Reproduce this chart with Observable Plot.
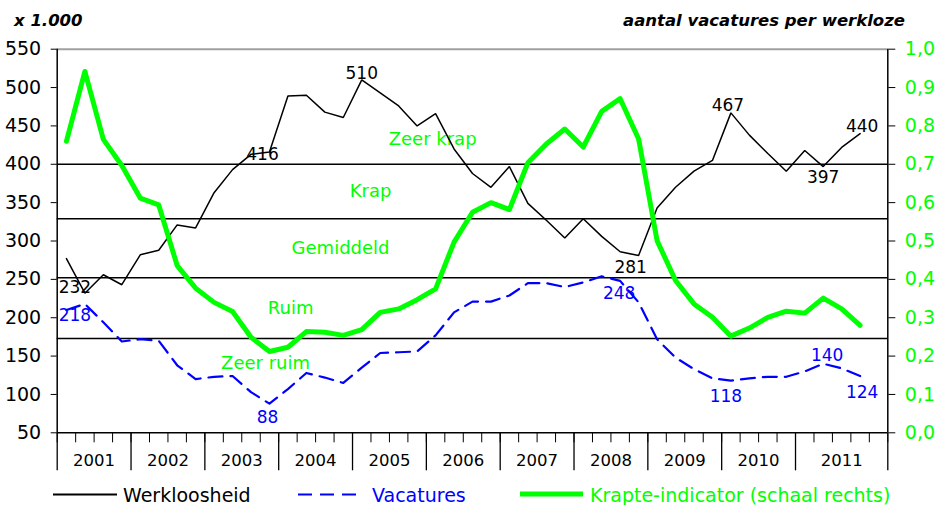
<!DOCTYPE html>
<html><head><meta charset="utf-8">
<script src="https://cdn.jsdelivr.net/npm/d3@7"></script>
<script src="https://cdn.jsdelivr.net/npm/@observablehq/plot@0.6"></script>
<style>
body{margin:0;background:#fff;}
#wrap{position:relative;width:936px;height:505px;font-family:"DejaVu Sans",Verdana,sans-serif;overflow:hidden;background:#fff}
.h{position:absolute;top:11px;font-weight:bold;font-style:italic;font-size:16.5px;line-height:20px;color:#000;white-space:nowrap}
#chart{position:absolute;left:0;top:40px}
.lt{position:absolute;top:485px;font-size:19px;line-height:20px;white-space:nowrap}
.sw{position:absolute}
</style></head>
<body>
<div id="wrap">
  <div class="h" style="left:14px">x 1.000</div>
  <div class="h" style="right:31px">aantal vacatures per werkloze</div>
  <div id="chart"></div>
  <svg class="sw" style="left:0;top:480px" width="936" height="25">
    <line x1="53" x2="117" y1="14.5" y2="14.5" stroke="#000" stroke-width="2"/>
    <line x1="298" x2="362" y1="14.5" y2="14.5" stroke="#0000ff" stroke-width="2.2" stroke-dasharray="14,8"/>
    <line x1="520" x2="583" y1="14" y2="14" stroke="#00ff00" stroke-width="5"/>
  </svg>
  <div class="lt" style="left:123px;color:#000">Werkloosheid</div>
  <div class="lt" style="left:372px;color:#0000ff">Vacatures</div>
  <div class="lt" style="left:590px;color:#00ff00">Krapte-indicator (schaal rechts)</div>
</div>
<script>
// ---- data (quarterly, 2001 Q1 – 2011 Q4) ----
const years = [2001, 2002, 2003, 2004, 2005, 2006, 2007, 2008, 2009, 2010, 2011];
const werkloosheid = [277, 232, 256, 243, 282, 288, 321, 317, 363, 393, 413, 416, 489, 490, 468, 461, 510, 493, 476, 450, 466, 420, 388, 370, 397, 349, 327, 304, 329, 306, 286, 281, 343, 370, 391, 405, 467, 438, 414, 391, 418, 397, 422, 440];
const vacatures = [210, 218, 194, 169, 172, 170, 138, 120, 123, 124, 103, 88, 107, 128, 122, 115, 135, 154, 155, 156, 177, 207, 221, 221, 229, 245, 245, 240, 246, 254, 248, 220, 172, 148, 133, 121, 118, 121, 123, 123, 130, 140, 134, 124];
const krapte = [0.760, 0.942, 0.765, 0.697, 0.612, 0.594, 0.436, 0.377, 0.340, 0.316, 0.249, 0.212, 0.223, 0.264, 0.262, 0.254, 0.269, 0.314, 0.323, 0.347, 0.375, 0.497, 0.575, 0.600, 0.582, 0.704, 0.753, 0.792, 0.745, 0.838, 0.871, 0.766, 0.501, 0.397, 0.336, 0.301, 0.252, 0.273, 0.301, 0.317, 0.312, 0.351, 0.323, 0.280];
const werkLabelIdx = [1, 11, 16, 31, 36, 41, 43];
const vacLabelIdx = [1, 11, 30, 36, 41, 43];
const zoneNames = ["Zeer krap", "Krap", "Gemiddeld", "Ruim", "Zeer ruim"];
const zoneBounds = [0.70, 0.558, 0.404, 0.246];
const leftTicks = [50, 100, 150, 200, 250, 300, 350, 400, 450, 500, 550];

// ---- layout / placement config ----
const slots = 45; // category slots on the x axis (2011 group has an extra empty slot)
const yearStarts = years.map((y, k) => k * 4);
const yearBounds = [...yearStarts, slots];
const yearMids = years.map((y, k) => (yearBounds[k] + yearBounds[k + 1]) / 2);
const zoneLabelX = [20.34, 16.98, 15.35, 12.65, 11.29];
const werkOff = {1: [-10, -6], 11: [-7, 3], 16: [0, -6], 31: [-8, 12], 36: [-3, -7], 41: [0, 11], 43: [2, -7]};
const vacOff = {1: [-10, 12], 11: [-2, 14], 30: [-1, 13], 36: [-5, 16], 41: [4, -8], 43: [2, 17]};

const toLeft = r => 50 + r * 500;              // right scale (0–1) onto left scale (50–550)
const fromLeft = v => (v - 50) / 500;
const GREEN = "#00ff00", BLUE = "#0000ff";

const rows = werkloosheid.map((w, i) => ({i, w, v: vacatures[i], k: krapte[i]}));
const ext = [zoneBounds[0] + 0.13, ...zoneBounds, zoneBounds[zoneBounds.length - 1] - 0.13];
const zoneRows = zoneNames.map((name, j) => ({name, x: zoneLabelX[j], y: (ext[j] + ext[j + 1]) / 2}));

const marks = [
  Plot.ruleY([550], {stroke: "#a0a0a0", strokeWidth: 2}),
  Plot.ruleY(zoneBounds, {y: d => toLeft(d), stroke: "#000", strokeWidth: 1.5}),
  Plot.ruleY([50], {stroke: "#000", strokeWidth: 1.5}),
  Plot.ruleX([0, slots], {stroke: "#000", strokeWidth: 1.5}),
  Plot.text(zoneRows, {x: "x", y: d => toLeft(d.y), text: "name", fill: GREEN, fontSize: 18}),
  Plot.line(rows, {x: d => d.i + 0.5, y: "w", stroke: "#000", strokeWidth: 1.5, strokeLinejoin: "miter"}),
  Plot.line(rows, {x: d => d.i + 0.5, y: "v", stroke: BLUE, strokeWidth: 2.2, strokeDasharray: "14,8"}),
  Plot.line(rows, {x: d => d.i + 0.5, y: d => toLeft(d.k), stroke: GREEN, strokeWidth: 5, strokeLinejoin: "round"}),
  // axes
  Plot.axisY({anchor: "left", ticks: leftTicks, tickSize: 6, tickPadding: 10, fontSize: 19, label: null, stroke: "#000", fill: "#000"}),
  Plot.axisY({anchor: "right", ticks: leftTicks, tickSize: 7, tickPadding: 10, fontSize: 19, label: null,
    tickFormat: d => fromLeft(d).toFixed(1).replace(".", ","), stroke: "#000", fill: GREEN}),
  Plot.axisX({ticks: d3.range(0, slots + 1), tickSize: 10, tickFormat: () => "", label: null, stroke: "#000"}),
  Plot.axisX({ticks: yearBounds, tickSize: 38, tickFormat: () => "", label: null, stroke: "#000", strokeWidth: 1.3}),
  Plot.axisX({ticks: yearMids, tickSize: 0, tickPadding: 21, fontSize: 16.5, label: null, fill: "#000",
    tickFormat: d => String(years[yearMids.indexOf(d)])})
];
for (const i of werkLabelIdx) {
  const [dx, dy] = werkOff[i] || [0, -10];
  marks.push(Plot.text([rows[i]], {x: d => d.i + 0.5, y: "w", text: d => String(d.w), dx, dy, fill: "#000", fontSize: 17}));
}
for (const i of vacLabelIdx) {
  const [dx, dy] = vacOff[i] || [0, 12];
  marks.push(Plot.text([rows[i]], {x: d => d.i + 0.5, y: "v", text: d => String(d.v), dx, dy, fill: BLUE, fontSize: 17}));
}

const chart = Plot.plot({
  width: 936, height: 435,
  marginLeft: 56.7, marginRight: 48.7, marginTop: 8.7, marginBottom: 42.7,
  style: {fontFamily: "'DejaVu Sans', Verdana, sans-serif", background: "white", overflow: "visible"},
  x: {domain: [0, slots]},
  y: {domain: [50, 550]},
  marks
});
document.getElementById("chart").appendChild(chart);
</script>
</body></html>
